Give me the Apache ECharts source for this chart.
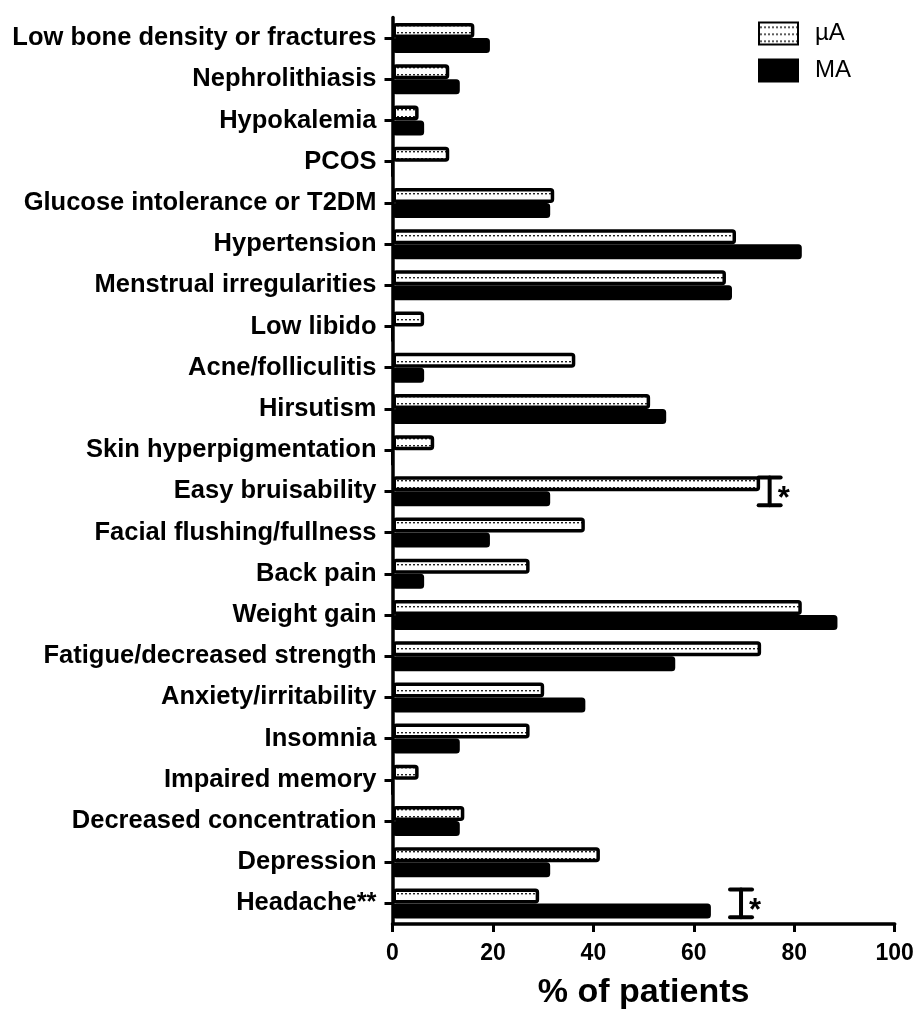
<!DOCTYPE html>
<html>
<head>
<meta charset="utf-8">
<script src="https://cdn.jsdelivr.net/npm/echarts@6/dist/echarts.min.js"></script>
<style>html,body{margin:0;padding:0;background:#fff;}#c{width:921px;height:1013px;}</style>
</head>
<body>
<div id="c"></div>
<script>
const categories = [
  'Low bone density or fractures','Nephrolithiasis','Hypokalemia','PCOS',
  'Glucose intolerance or T2DM','Hypertension','Menstrual irregularities','Low libido',
  'Acne/folliculitis','Hirsutism','Skin hyperpigmentation','Easy bruisability',
  'Facial flushing/fullness','Back pain','Weight gain','Fatigue/decreased strength',
  'Anxiety/irritability','Insomnia','Impaired memory','Decreased concentration',
  'Depression','Headache**'
];
const microA = [16.3, 11.3, 5.2, 11.3, 32.2, 68.4, 66.4, 6.3, 36.4, 51.3, 8.3, 73.2, 38.3, 27.3, 81.5, 73.4, 30.2, 27.3, 5.2, 14.3, 41.3, 29.2];
const macroA = [19.4, 13.4, 6.3, 0, 31.4, 81.5, 67.6, 0, 6.3, 54.5, 0, 31.4, 19.4, 6.3, 88.6, 56.3, 38.4, 13.4, 0, 13.4, 31.4, 63.4];
const sigMarks = [[75.1, 'Easy bruisability'], [69.4, 'Headache**']];
const xTicks = [0, 20, 40, 60, 80, 100];

const pc = document.createElement('canvas');
pc.width = 4; pc.height = 7;
const g = pc.getContext('2d');
g.fillStyle = '#fff'; g.fillRect(0, 0, 4, 7);
g.fillStyle = '#222'; g.fillRect(1, 4, 2, 1.4);
const dotPattern = { image: pc, repeat: 'repeat' };

const chart = echarts.init(document.getElementById('c'), null, { renderer: 'canvas' });
const font = 'Liberation Sans, Arial, Helvetica, sans-serif';
chart.setOption({
  animation: false,
  backgroundColor: '#fff',
  grid: { left: 392.5, right: 26.3, top: 17.5, bottom: 89, containLabel: false, outerBoundsMode: 'none' },
  legend: {
    orient: 'vertical', left: 753, top: 16.5,
    icon: 'rect',
    itemWidth: 39, itemHeight: 22, itemGap: 13,
    textStyle: { fontFamily: font, fontSize: 24, color: '#000', lineHeight: 22, padding: [0, 0, 0, 12] },
    data: ['µA', 'MA']
  },
  xAxis: {
    type: 'value', min: 0, max: 100, interval: 20,
    axisLine: { show: true, lineStyle: { color: '#000', width: 3.5 } },
    axisTick: { show: true, length: 8, lineStyle: { color: '#000', width: 3 } },
    axisLabel: { color: '#000', fontFamily: font, fontWeight: 'bold', fontSize: 23, margin: 18,
      formatter: v => xTicks.includes(v) ? String(v) : '' },
    splitLine: { show: false },
    name: '% of patients', nameLocation: 'middle', nameGap: 52,
    nameTextStyle: { color: '#000', fontFamily: font, fontWeight: 'bold', fontSize: 34 }
  },
  yAxis: {
    type: 'category', data: categories, inverse: true,
    axisLine: { show: true, lineStyle: { color: '#000', width: 3.5 } },
    axisTick: { show: true, length: 8, alignWithLabel: true, lineStyle: { color: '#000', width: 3 } },
    axisLabel: { color: '#000', fontFamily: font, fontWeight: 'bold', fontSize: 25.5, margin: 16 }
  },
  series: [
    {
      name: 'µA', type: 'bar', data: microA, barWidth: 15, barGap: '0%',
      itemStyle: { color: dotPattern, borderColor: '#000', borderWidth: 3.5, borderRadius: 2 }
    },
    {
      name: 'MA', type: 'bar', data: macroA, barWidth: 15,
      itemStyle: { color: '#000', borderColor: '#000', borderWidth: 3, borderRadius: 2 }
    },
    {
      name: 'sig', type: 'custom', data: sigMarks, z: 5,
      renderItem: function (params, api) {
        const p = api.coord([api.value(0), api.value(1)]);
        const band = api.size([0, 1])[1];
        const h = band * 0.335;
        const w = 11;
        const st = { stroke: '#000', lineWidth: 4, lineCap: 'round' };
        return {
          type: 'group',
          children: [
            { type: 'line', shape: { x1: p[0], y1: p[1] - h, x2: p[0], y2: p[1] + h }, style: st },
            { type: 'line', shape: { x1: p[0] - w, y1: p[1] - h, x2: p[0] + w, y2: p[1] - h }, style: st },
            { type: 'line', shape: { x1: p[0] - w, y1: p[1] + h, x2: p[0] + w, y2: p[1] + h }, style: st },
            { type: 'text', x: p[0] + 8, y: p[1] + 8,
              style: { text: '*', fill: '#000', font: 'bold 31px ' + font, textAlign: 'left', textVerticalAlign: 'middle' } }
          ]
        };
      }
    }
  ]
});
</script>
</body>
</html>
